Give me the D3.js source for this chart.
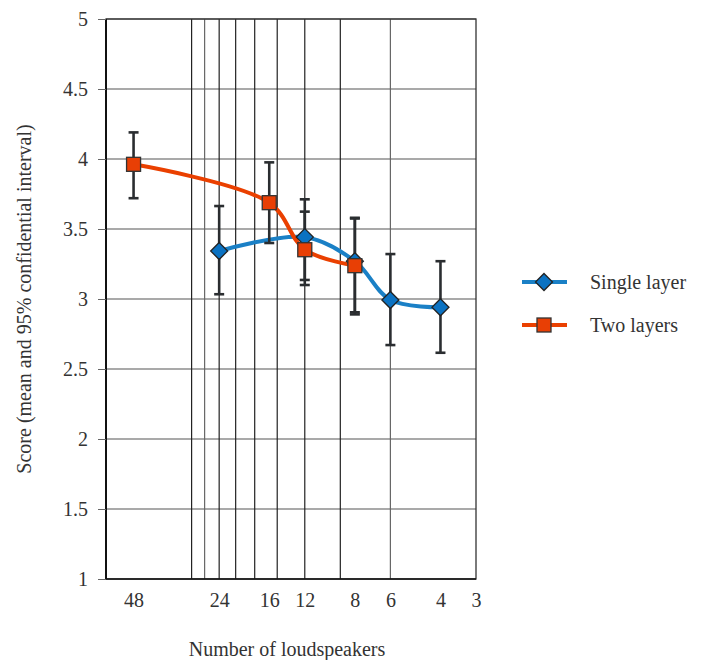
<!DOCTYPE html>
<html>
<head>
<meta charset="utf-8">
<script src="https://cdn.jsdelivr.net/npm/d3@7"></script>
</head>
<body>
<script>
// ---- data ----
const xTickValues = [48, 24, 16, 12, 8, 6, 4, 3];
const xGridValues = [30, 27, 24, 21, 18, 15, 12, 9, 6];
const yTickValues = [1, 1.5, 2, 2.5, 3, 3.5, 4, 4.5, 5];

const singleX    = [24, 12, 8, 6, 4];
const singleMean = [3.343, 3.442, 3.27, 2.993, 2.941];
const singleLow  = [3.034, 3.136, 2.905, 2.671, 2.616];
const singleHigh = [3.664, 3.712, 3.58, 3.321, 3.27];

const twoX    = [48, 16, 12, 8];
const twoMean = [3.962, 3.688, 3.352, 3.238];
const twoLow  = [3.72, 3.40, 3.10, 2.89];
const twoHigh = [4.19, 3.976, 3.624, 3.575];

const seriesNames = ["Single layer", "Two layers"];

// ---- layout ----
const FONT = "Liberation Serif";
const W = 705, H = 660;
d3.select("body").style("margin", "0").style("padding", "0");
const svg = d3.select("body").append("svg").attr("width", W).attr("height", H)
  .style("display", "block");

const x = d3.scaleLog().domain([60, 3]).range([106, 476]);
const y = d3.scaleLinear().domain([1, 5]).range([579, 19]);

const blue = "#1a80c6", blueFill = "#0b72c2";
const red = "#ea4000", redFill = "#e83f05";
const barColor = "#2a2d30";
const textColor = "#333";

// gridlines
const g = svg.append("g");
g.selectAll("line.h").data(yTickValues.slice(1)).join("line")
  .attr("x1", x.range()[0]).attr("x2", x.range()[1])
  .attr("y1", d => y(d)).attr("y2", d => y(d))
  .attr("stroke", "#555").attr("stroke-width", 1.2);
g.selectAll("line.v").data(xGridValues).join("line")
  .attr("x1", d => x(d)).attr("x2", d => x(d))
  .attr("y1", y.range()[0]).attr("y2", y.range()[1])
  .attr("stroke", (d, i) => (i === 1 || i === 8 ? "#666" : "#222")).attr("stroke-width", 1.2);
// frame
g.append("rect")
  .attr("x", x.range()[0]).attr("y", y.range()[1])
  .attr("width", x.range()[1] - x.range()[0]).attr("height", y.range()[0] - y.range()[1])
  .attr("fill", "none").attr("stroke", "#333").attr("stroke-width", 1.3);
g.append("line")
  .attr("x1", x.range()[0]).attr("x2", x.range()[0])
  .attr("y1", y.range()[0]).attr("y2", y.range()[1])
  .attr("stroke", "#111").attr("stroke-width", 2);
g.append("line")
  .attr("x1", x.range()[0]).attr("x2", x.range()[1])
  .attr("y1", y.range()[0]).attr("y2", y.range()[0])
  .attr("stroke", "#111").attr("stroke-width", 1.6);

// y axis
const yAxis = d3.axisLeft(y).tickValues(yTickValues).tickSize(8).tickPadding(10)
  .tickFormat(d => String(d));
const ya = svg.append("g").attr("transform", `translate(${x.range()[0]},0)`).call(yAxis)
  .attr("font-family", FONT).attr("font-size", 20);
ya.select(".domain").remove();
ya.selectAll(".tick line").attr("stroke", "#666");
ya.selectAll(".tick text").attr("fill", textColor).attr("font-family", FONT).attr("font-size", 20);

// x axis labels
const xAxis = d3.axisBottom(x).tickValues(xTickValues).tickSize(0).tickPadding(14)
  .tickFormat(d => String(d));
const xa = svg.append("g").attr("transform", `translate(0,${y.range()[0]})`).call(xAxis)
  .attr("font-family", FONT).attr("font-size", 20);
xa.select(".domain").remove();
xa.selectAll(".tick text").attr("fill", textColor).attr("font-family", FONT).attr("font-size", 20);

// axis titles
svg.append("text")
  .attr("transform", `translate(31,${(y.range()[0] + y.range()[1]) / 2}) rotate(-90)`)
  .attr("text-anchor", "middle").attr("font-size", 20).attr("font-family", FONT)
  .attr("fill", textColor)
  .text("Score (mean and 95% confidential interval)");
svg.append("text")
  .attr("x", 287).attr("y", 656)
  .attr("text-anchor", "middle").attr("font-size", 20).attr("font-family", FONT)
  .attr("fill", textColor)
  .text("Number of loudspeakers");

// series data
const single = singleX.map((v, i) => ({x: v, m: singleMean[i], lo: singleLow[i], hi: singleHigh[i]}));
const two = twoX.map((v, i) => ({x: v, m: twoMean[i], lo: twoLow[i], hi: twoHigh[i]}));

const line = d3.line().x(d => x(d.x)).y(d => y(d.m)).curve(d3.curveCatmullRom.alpha(0.5));

svg.append("path").datum(single).attr("d", line)
  .attr("fill", "none").attr("stroke", blue).attr("stroke-width", 4);
svg.append("path").datum(two).attr("d", line)
  .attr("fill", "none").attr("stroke", red).attr("stroke-width", 4);

// error bars
function errBars(data) {
  const eg = svg.append("g").attr("stroke", barColor).attr("stroke-width", 2.6);
  data.forEach(d => {
    const cx = x(d.x);
    eg.append("line").attr("x1", cx).attr("x2", cx).attr("y1", y(d.lo)).attr("y2", y(d.hi));
    eg.append("line").attr("x1", cx - 5).attr("x2", cx + 5).attr("y1", y(d.lo)).attr("y2", y(d.lo));
    eg.append("line").attr("x1", cx - 5).attr("x2", cx + 5).attr("y1", y(d.hi)).attr("y2", y(d.hi));
  });
}
errBars(single);
errBars(two);

// markers
const diamond = "M0,-8.5L8.5,0L0,8.5L-8.5,0Z";
svg.append("g").selectAll("path").data(single).join("path")
  .attr("d", diamond)
  .attr("transform", d => `translate(${x(d.x)},${y(d.m)})`)
  .attr("fill", blueFill).attr("stroke", "#222").attr("stroke-width", 1.3);
svg.append("g").selectAll("rect").data(two).join("rect")
  .attr("x", d => x(d.x) - 7).attr("y", d => y(d.m) - 7)
  .attr("width", 14).attr("height", 14)
  .attr("fill", redFill).attr("stroke", "#333").attr("stroke-width", 1.3);

// legend
const legendColors = [blue, red];
const lg = svg.append("g");
seriesNames.forEach((name, i) => {
  const ly = 282 + i * 43;
  lg.append("line").attr("x1", 522).attr("x2", 567).attr("y1", ly).attr("y2", ly)
    .attr("stroke", legendColors[i]).attr("stroke-width", 4);
  if (i === 0) {
    lg.append("path").attr("d", diamond).attr("transform", `translate(544,${ly})`)
      .attr("fill", blueFill).attr("stroke", "#222").attr("stroke-width", 1.3);
  } else {
    lg.append("rect").attr("x", 537).attr("y", ly - 7).attr("width", 14).attr("height", 14)
      .attr("fill", redFill).attr("stroke", "#333").attr("stroke-width", 1.3);
  }
  lg.append("text").attr("x", 590).attr("y", ly + 7).attr("font-size", 20)
    .attr("font-family", FONT).attr("fill", textColor).text(name);
});
</script>
</body>
</html>
